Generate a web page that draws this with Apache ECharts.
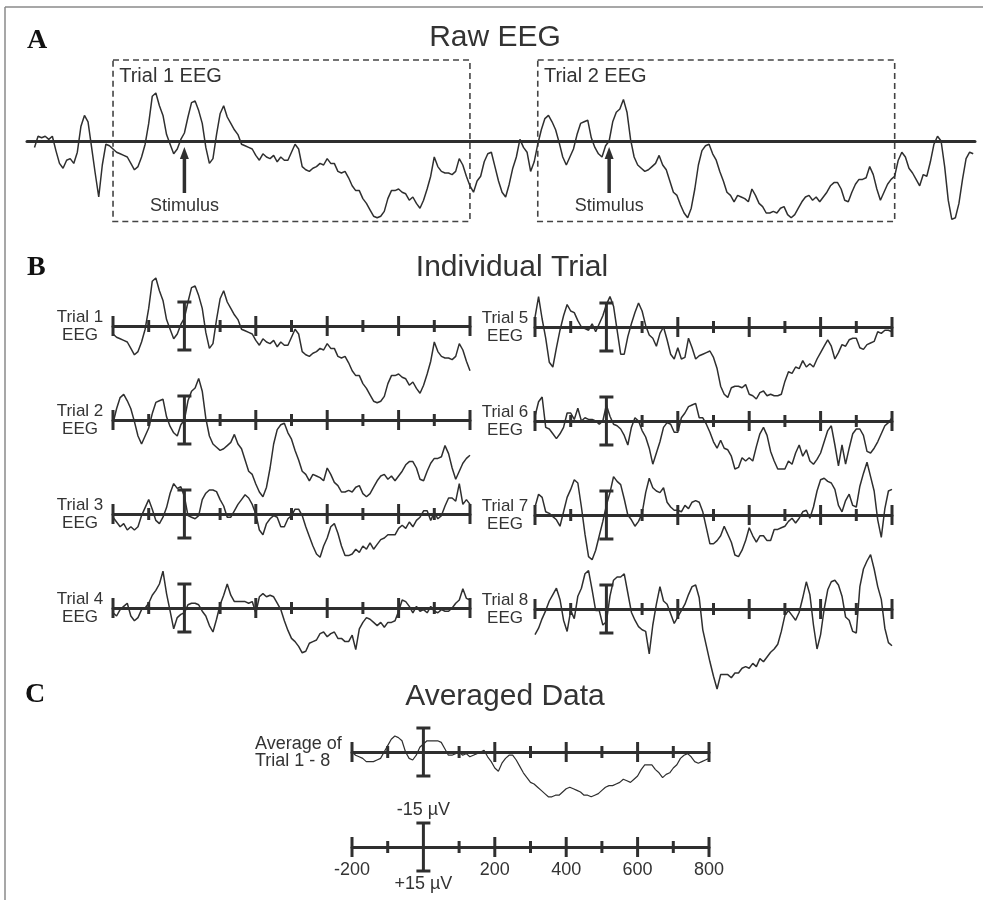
<!DOCTYPE html>
<html>
<head>
<meta charset="utf-8">
<script src="https://cdn.jsdelivr.net/npm/echarts@6/dist/echarts.min.js"></script>
<style>
html,body{margin:0;padding:0;background:#fff;}
#chart{width:983px;height:900px;}
</style>
</head>
<body>
<div id="chart"></div>
<script>
// ---------- DATA (µV, negative = up; samples every 10 ms from -200 to 800 ms) ----------
const tickTimes = [-200, -100, 0, 100, 200, 300, 400, 500, 600, 700, 800];
const majorTicks = [-200, 200, 400, 600, 800];
const scaleTickLabels = ['-200', '200', '400', '600', '800'];
const scaleBarLabels = ['-15 µV', '+15 µV'];
const scaleBarValue = 15;

const trialNames = ['Trial 1', 'Trial 2', 'Trial 3', 'Trial 4', 'Trial 5', 'Trial 6', 'Trial 7', 'Trial 8'];

const trial1 = [5,7,8,9,10,14,18,16,10,2,-11,-28,-30,-22,-16,-4,2,8,5,-1,-5,-15,-24,-25,-19,-11,4,14,11,-4,-17,-22,-15,-11,-7,-4,2,3,4,5,9,12,8,10,11,9,13,10,12,12,7,2,5,16,18,19,17,16,14,15,11,14,14,19,20,19,23,28,31,31,36,39,43,47,48,47,44,36,31,31,30,32,33,37,35,39,42,37,30,22,10,16,19,20,20,21,19,11,15,22,28];
const trial2 = [2,-7,-14,-16,-12,-7,1,10,15,10,5,-4,-11,-12,-13,-2,4,8,10,3,0,-12,-18,-20,-26,-18,-1,10,15,17,19,18,16,14,9,15,18,25,32,34,40,45,48,42,30,15,6,3,2,8,12,19,25,32,34,38,34,35,36,38,30,34,39,41,45,45,44,45,42,41,46,48,46,42,38,35,34,37,35,38,35,32,28,26,26,30,37,38,32,27,24,24,23,16,21,30,37,32,27,24,22];
const trial3 = [2,5,8,6,10,8,10,8,1,-4,-9,-3,4,6,2,-4,-13,-19,-16,-17,-11,1,2,3,1,-9,-13,-15,-15,-14,-9,-5,2,2,-2,-6,-9,-12,-10,-6,0,10,13,6,3,1,2,8,8,3,1,-3,-3,1,8,14,20,25,27,20,15,8,6,12,20,26,26,25,22,24,20,22,18,22,19,16,15,13,13,13,9,7,9,5,8,4,2,-2,-2,4,-1,3,1,-5,-10,-10,-8,-19,-6,-9,-6];
const trial4 = [3,5,1,-1,-3,5,8,6,1,0,-3,-8,-11,-15,-23,-9,2,13,6,4,3,-2,-3,-3,-2,2,5,11,15,7,-2,-8,-15,-8,-4,-4,-4,-4,-3,-4,3,-7,-9,-7,-8,-7,-3,1,8,14,19,21,24,28,27,22,21,20,16,15,18,16,15,19,19,21,21,17,26,13,9,6,7,9,11,9,12,9,9,8,2,-5,-4,-1,3,-1,2,1,3,-1,2,3,1,2,2,0,-3,-5,-12,-6,-5];
const trial5 = [-6,-19,-5,7,22,25,13,2,-7,-14,-10,-9,-4,0,1,2,-2,3,-2,-7,-14,-19,-13,2,17,17,6,-2,-9,-15,-10,-1,5,7,12,4,0,8,17,20,13,20,19,7,13,20,18,17,16,15,19,26,37,42,44,38,37,37,38,36,42,43,45,41,40,43,42,43,43,42,34,28,29,25,26,21,25,23,25,20,16,12,8,12,20,16,11,12,8,7,7,13,14,11,10,9,3,4,2,2,3];
const trial6 = [-3,-12,-15,4,5,8,11,8,4,-5,-5,-1,-8,0,-2,-1,-1,0,2,0,-10,-3,2,3,5,9,15,4,-2,0,6,10,17,27,20,13,4,1,2,7,7,-2,-5,-9,-10,-11,-2,-2,2,7,13,17,12,17,18,22,30,29,23,25,23,25,16,8,4,9,19,25,30,30,30,25,27,20,15,22,18,25,27,24,20,13,6,3,15,28,15,27,17,8,5,5,9,19,20,17,13,8,3,1,-2];
const trial7 = [-5,-13,-11,-2,-1,1,3,7,-2,-11,-16,-22,-20,-5,12,26,28,22,13,4,-6,-14,-24,-21,-19,-10,0,3,7,4,-1,-14,-23,-17,-15,-14,-17,-8,-5,-3,-3,-2,-6,-4,-8,-9,-8,-2,8,18,18,16,13,7,12,17,25,26,22,16,8,13,17,13,13,16,16,9,9,8,7,4,2,5,2,-2,-3,2,-5,-15,-22,-23,-21,-20,-16,-6,-2,-9,-13,-6,-5,-18,-26,-33,-24,-15,3,14,-4,-15,-16];
const trial8 = [16,12,6,1,-5,-9,-13,-6,7,14,1,6,-8,-13,-22,-24,-12,1,1,10,8,-8,-18,-20,-20,-22,-10,2,7,11,13,14,28,10,-3,-14,-5,-3,3,9,5,1,-3,-9,-14,-15,-7,13,23,33,42,50,41,41,41,43,40,40,37,36,37,34,36,31,33,30,27,25,22,14,4,1,4,7,2,-7,-17,-9,10,25,16,0,-12,-17,-18,-15,-8,5,7,14,15,-14,-25,-30,-34,-25,-14,-6,12,21,23];
const averageTrials = [0,2,3,4,6,6,6,5,4,0,-4,-8,-10,-9,-7,0,4,5,2,-3,-5,-7,-7,-7,-7,-6,-2,2,2,1,0,2,1,3,2,1,0,-1,3,6,10,12,7,4,2,2,5,9,13,16,19,20,22,24,26,28,28,27,27,25,23,22,23,24,25,27,27,28,27,26,24,22,21,21,20,19,17,18,19,17,15,11,8,8,8,11,13,16,14,13,10,8,4,2,1,3,6,7,6,5,4];

// raw EEG pieces outside the two trial windows (10 ms steps)
const rawPre  = [4,-3,-2,-3,-1,-3,6,14,17,12,11,14,7,-9,-16,-12,4,20,35,15,2,3];
const rawGap  = [32,25,22,13,8,7,16,25,32,35,27,17,10,-1,4,7,19,13];
const rawPost = [12,7,10,17,20,24,28,21,22,13,2,-3,0,16,37,49,48,39,24,11,7,8];

// raw-time layout (ms): window 1 starts at 0, window 2 at 1190, each 1000 ms long
const boxStarts = [0, 1190];
const boxLabels = ['Trial 1 EEG', 'Trial 2 EEG'];
const trialSpan = 1000;
const trialMin = -200;
const boxTopUV = -50.6, boxBottomUV = 50.3;
const stimulusLabel = 'Stimulus';

// ---------- BUILD ----------
const INK = '#2f2f2f';
const FONT = "'Liberation Sans', Arial, Helvetica, sans-serif";
const PX_PER_UV = 1.6;

function toSeries(arr) {
  const n = arr.length;
  return arr.map((v, i) => [trialMin + i * trialSpan / (n - 1), v]);
}

const rawData = [];
rawPre.forEach((v, i) => rawData.push([-10 * (rawPre.length - i), v]));
trial1.forEach((v, i) => rawData.push([boxStarts[0] + i * trialSpan / (trial1.length - 1), v]));
rawGap.forEach((v, i) => rawData.push([boxStarts[0] + trialSpan + (i + 1) * (boxStarts[1] - boxStarts[0] - trialSpan) / (rawGap.length + 1), v]));
trial2.forEach((v, i) => rawData.push([boxStarts[1] + i * trialSpan / (trial2.length - 1), v]));
rawPost.forEach((v, i) => rawData.push([boxStarts[1] + trialSpan + 10 * (i + 1), v]));

const trials = [trial1, trial2, trial3, trial4, trial5, trial6, trial7, trial8];

// grid layout (yTop / yBottom in µV around baseline 0)
const grids = [];
const xAxes = [];
const yAxes = [];
function addGrid(left, width, baseline, xmin, xmax, yTop, yBottom, extraX) {
  const idx = grids.length;
  grids.push({left: left, width: width, top: baseline + yTop * PX_PER_UV, height: (yBottom - yTop) * PX_PER_UV,
    containLabel: false, outerBoundsMode: 'none'});
  xAxes.push(Object.assign({
    gridIndex: idx, type: 'value', min: xmin, max: xmax,
    axisLine: {show: true, onZero: true, lineStyle: {color: INK, width: 3}},
    axisTick: {show: false}, axisLabel: {show: false}, splitLine: {show: false}
  }, extraX || {}));
  yAxes.push({gridIndex: idx, type: 'value', min: yTop, max: yBottom, inverse: true, show: false, splitLine: {show: false}});
  return idx;
}

const rawGrid = addGrid(27, 948, 141, -241, 2415, -60, 60);
const trialLeft = [113, 113, 113, 113, 535, 535, 535, 535];
const trialBase = [326, 420, 514, 608, 327, 421, 515, 609];
const trialGrids = trials.map((t, i) => addGrid(trialLeft[i], 357, trialBase[i], -200, 800, -60, 60));
const avgGrid = addGrid(352, 357, 752, -200, 800, -40, 40);
const scaleGrid = addGrid(352, 357, 847, -200, 800, -20, 0, {
  position: 'bottom',
  interval: 100,
  axisLabel: {
    show: true, margin: 14, color: '#333', fontSize: 18, fontFamily: FONT,
    formatter: function (v) { const s = String(v); return scaleTickLabels.indexOf(s) >= 0 ? s : ''; }
  }
});

function tickRender(params, api) {
  const t = api.value(0);
  const c = api.coord([t, 0]);
  const st = {stroke: INK, lineWidth: 3};
  if (t === 0) {
    const a = api.coord([0, -scaleBarValue]);
    const b = api.coord([0, scaleBarValue]);
    return {type: 'group', children: [
      {type: 'line', shape: {x1: c[0], y1: a[1], x2: c[0], y2: b[1]}, style: st},
      {type: 'line', shape: {x1: c[0] - 7, y1: a[1], x2: c[0] + 7, y2: a[1]}, style: st},
      {type: 'line', shape: {x1: c[0] - 7, y1: b[1], x2: c[0] + 7, y2: b[1]}, style: st}
    ]};
  }
  const h = majorTicks.indexOf(t) >= 0 ? 10 : 6;
  return {type: 'line', shape: {x1: c[0], y1: c[1] - h, x2: c[0], y2: c[1] + h}, style: st};
}
function tickSeries(g) {
  return {
    type: 'custom', xAxisIndex: g, yAxisIndex: g, silent: true, z: 3, clip: false,
    data: tickTimes.map(t => [t, 0]), renderItem: tickRender
  };
}

const series = [];
// raw EEG
series.push({
  type: 'line', xAxisIndex: rawGrid, yAxisIndex: rawGrid, data: rawData,
  symbol: 'none', silent: true, z: 4,
  lineStyle: {color: INK, width: 1.5},
  markArea: {
    silent: true,
    itemStyle: {color: 'rgba(0,0,0,0)', borderColor: '#444', borderWidth: 1.6, borderType: [6, 4]},
    label: {show: true, position: 'insideTopLeft', distance: 7, color: '#333', fontSize: 20, fontFamily: FONT},
    data: boxStarts.map((s, i) => [
      {name: boxLabels[i], xAxis: s, yAxis: boxTopUV},
      {xAxis: s + trialSpan, yAxis: boxBottomUV}
    ])
  }
});
// stimulus arrows
series.push({
  type: 'custom', xAxisIndex: rawGrid, yAxisIndex: rawGrid, silent: true, z: 5, clip: false,
  data: boxStarts.map(s => [s - trialMin, 0]),
  renderItem: function (params, api) {
    const t = api.value(0);
    const base = api.coord([t, 32.5]);
    const tip = api.coord([t, 3.8]);
    return {type: 'group', children: [
      {type: 'line', shape: {x1: base[0], y1: base[1], x2: tip[0], y2: tip[1] + 10}, style: {stroke: INK, lineWidth: 3.5}},
      {type: 'polygon', shape: {points: [[tip[0], tip[1]], [tip[0] - 4.5, tip[1] + 12], [tip[0] + 4.5, tip[1] + 12]]}, style: {fill: INK}},
      {type: 'text', x: base[0], y: base[1] + 13, style: {text: stimulusLabel, fontSize: 18, fontFamily: FONT, fill: '#333', align: 'center', verticalAlign: 'middle'}}
    ]};
  }
});
// individual trials
trials.forEach((arr, i) => {
  const g = trialGrids[i];
  series.push(tickSeries(g));
  series.push({
    type: 'line', xAxisIndex: g, yAxisIndex: g, data: toSeries(arr),
    symbol: 'none', silent: true, z: 4, lineStyle: {color: INK, width: 1.5}
  });
});
// average
series.push(tickSeries(avgGrid));
series.push({
  type: 'line', xAxisIndex: avgGrid, yAxisIndex: avgGrid, data: toSeries(averageTrials),
  symbol: 'none', silent: true, z: 4, lineStyle: {color: INK, width: 1.2}
});
// scale
series.push(tickSeries(scaleGrid));
series.push({
  type: 'custom', xAxisIndex: scaleGrid, yAxisIndex: scaleGrid, silent: true, z: 5, clip: false,
  data: [[0, -scaleBarValue], [0, scaleBarValue]],
  renderItem: function (params, api) {
    const v = api.value(1);
    const c = api.coord([0, v]);
    return {type: 'text', x: c[0], y: c[1] + (v < 0 ? -13 : 13),
      style: {text: scaleBarLabels[params.dataIndex], fontSize: 18, fontFamily: FONT, fill: '#333', align: 'center', verticalAlign: 'middle'}};
  }
});

// texts & frame
const serif = "'Liberation Serif', 'Times New Roman', serif";
const graphics = [
  {type: 'line', shape: {x1: 5, y1: 7, x2: 983, y2: 7}, style: {stroke: '#8a8a8a', lineWidth: 1.5}, silent: true},
  {type: 'line', shape: {x1: 5, y1: 7, x2: 5, y2: 900}, style: {stroke: '#8a8a8a', lineWidth: 1.5}, silent: true},
  {type: 'text', x: 27, y: 41, style: {text: 'A', fontSize: 28, fontWeight: 'bold', fontFamily: serif, fill: '#111', verticalAlign: 'middle'}},
  {type: 'text', x: 27, y: 268, style: {text: 'B', fontSize: 28, fontWeight: 'bold', fontFamily: serif, fill: '#111', verticalAlign: 'middle'}},
  {type: 'text', x: 25, y: 695, style: {text: 'C', fontSize: 28, fontWeight: 'bold', fontFamily: serif, fill: '#111', verticalAlign: 'middle'}},
  {type: 'text', x: 495, y: 38, style: {text: 'Raw EEG', fontSize: 30, fontFamily: FONT, fill: '#333', align: 'center', verticalAlign: 'middle'}},
  {type: 'text', x: 512, y: 268, style: {text: 'Individual Trial', fontSize: 30, fontFamily: FONT, fill: '#333', align: 'center', verticalAlign: 'middle'}},
  {type: 'text', x: 505, y: 697, style: {text: 'Averaged Data', fontSize: 30, fontFamily: FONT, fill: '#333', align: 'center', verticalAlign: 'middle'}},
  {type: 'text', x: 255, y: 753, style: {text: 'Average of\nTrial 1 - 8', fontSize: 18, lineHeight: 17, fontFamily: FONT, fill: '#333', align: 'left', verticalAlign: 'middle'}}
];
trialNames.forEach((n, i) => {
  graphics.push({type: 'text', x: i < 4 ? 80 : 505, y: trialBase[i], style: {
    text: n + '\nEEG', fontSize: 17, lineHeight: 18, fontFamily: FONT, fill: '#333', align: 'center', verticalAlign: 'middle'}});
});

const chart = echarts.init(document.getElementById('chart'), null, {renderer: 'canvas'});
chart.setOption({
  backgroundColor: '#ffffff',
  animation: false,
  grid: grids,
  xAxis: xAxes,
  yAxis: yAxes,
  series: series,
  graphic: graphics
});
</script>
</body>
</html>
